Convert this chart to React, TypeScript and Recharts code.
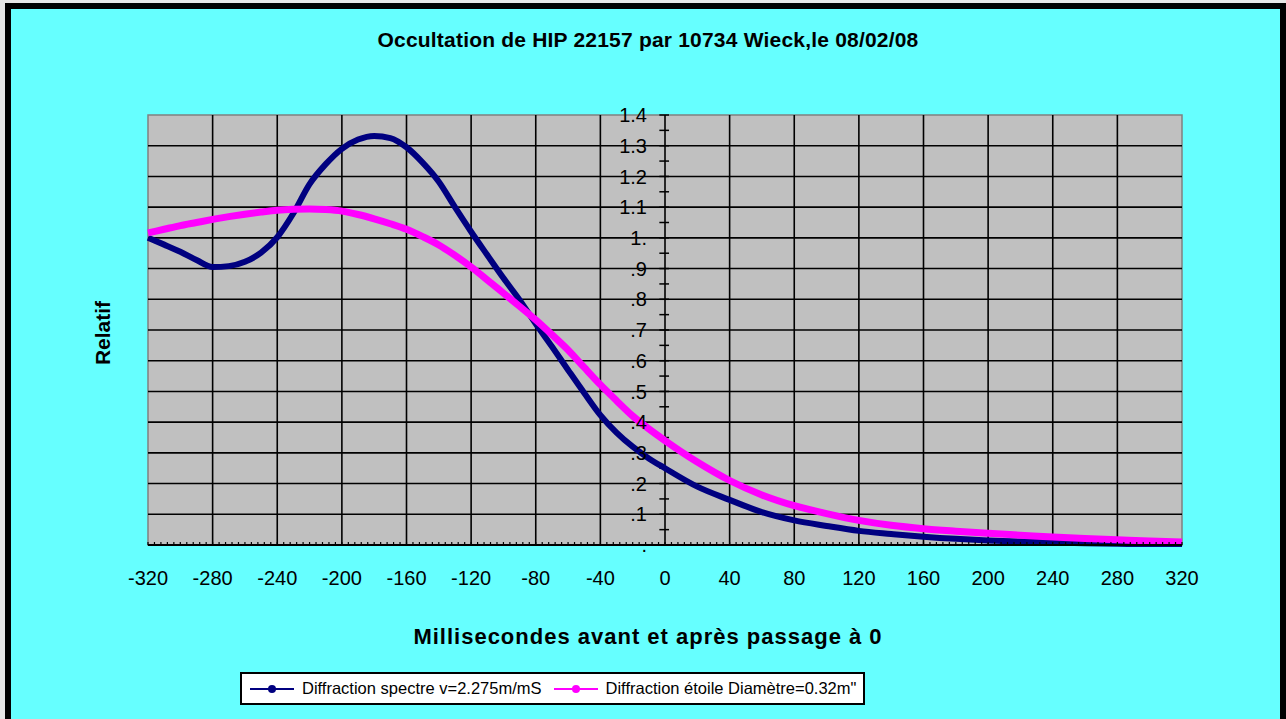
import React from 'react';
import { ComposedChart, Line, XAxis, YAxis, ReferenceLine, ReferenceArea, ReferenceDot } from 'recharts';

const timesMs = [-320, -310, -300, -290, -280, -270, -260, -250, -240, -230, -220, -210, -200, -190, -180, -170, -160, -150, -140, -130, -120, -110, -100, -90, -80, -70, -60, -50, -40, -30, -20, -10, 0, 20, 40, 60, 80, 100, 120, 140, 160, 180, 200, 220, 240, 260, 280, 300, 320];
const spectre = [1.0, 0.978, 0.955, 0.928, 0.905, 0.908, 0.922, 0.952, 1.002, 1.08, 1.175, 1.24, 1.29, 1.32, 1.332, 1.325, 1.295, 1.245, 1.183, 1.1, 1.02, 0.944, 0.869, 0.798, 0.72, 0.646, 0.57, 0.495, 0.423, 0.366, 0.32, 0.282, 0.25, 0.19, 0.147, 0.107, 0.08, 0.062, 0.046, 0.036, 0.027, 0.02, 0.015, 0.011, 0.008, 0.006, 0.004, 0.003, 0.003];
const etoile = [1.016, 1.028, 1.04, 1.05, 1.06, 1.069, 1.077, 1.084, 1.09, 1.093, 1.094, 1.092, 1.087, 1.076, 1.062, 1.046, 1.028, 1.004, 0.977, 0.943, 0.905, 0.863, 0.82, 0.777, 0.733, 0.685, 0.635, 0.578, 0.522, 0.47, 0.42, 0.378, 0.34, 0.27, 0.21, 0.163, 0.128, 0.102, 0.08, 0.064, 0.053, 0.045, 0.038, 0.032, 0.026, 0.021, 0.017, 0.013, 0.01];

const xMajorTicks = [-320, -280, -240, -200, -160, -120, -80, -40, 0, 40, 80, 120, 160, 200, 240, 280, 320];
const xMinorTicks = Array.from({ length: 161 }, (_, i) => -320 + i * 4);
const yValues = [0, 0.1, 0.2, 0.3, 0.4, 0.5, 0.6, 0.7, 0.8, 0.9, 1.0, 1.1, 1.2, 1.3, 1.4];
const yLabels = ['.', '.1', '.2', '.3', '.4', '.5', '.6', '.7', '.8', '.9', '1.', '1.1', '1.2', '1.3', '1.4'];
const yMinorTicks = Array.from({ length: 28 }, (_, i) => Math.round((i + 1) * 5) / 100);

const TITLE = 'Occultation de HIP 22157 par 10734 Wieck,le 08/02/08';
const X_TITLE = 'Millisecondes avant et après passage à 0';
const Y_TITLE = 'Relatif';
const SERIES_1 = 'Diffraction spectre v=2.275m/mS';
const SERIES_2 = 'Diffraction étoile Diamètre=0.32m"';

const data = timesMs.map((t, i) => ({ t, spectre: spectre[i], etoile: etoile[i] }));

const FONT = "'Liberation Sans', Arial, sans-serif";

const XTick = (props: any) => {
  const { x, y, payload } = props;
  const v = payload.value;
  const major = v % 40 === 0;
  return (
    <g>
      <line x1={x} x2={x} y1={y} y2={y - 3} stroke="#000" strokeWidth={1.2} />
      {major && (
        <text x={x} y={y + 33} textAnchor="middle" dominantBaseline="central" fontSize={20} fontFamily={FONT} fill="#000">
          {v}
        </text>
      )}
    </g>
  );
};

const LegendMark = ({ color }: { color: string }) => (
  <svg width={48} height={12} style={{ display: 'block' }}>
    <line x1={2} x2={46} y1={6} y2={6} stroke={color} strokeWidth={2} />
    <circle cx={24} cy={6} r={4} fill={color} />
  </svg>
);

export default function App() {
  return (
    <div style={{ position: 'fixed', left: 0, top: 0, width: 1286, height: 719, overflow: 'hidden', background: '#e6e6e6' }}>
      <div style={{ position: 'absolute', left: 5, top: 3, width: 1281, height: 740, boxSizing: 'border-box', border: '6px solid #000', background: '#66FFFF' }} />
      <div style={{ position: 'absolute', left: 0, top: 0 }}>
        <ComposedChart width={1286} height={719} data={data} margin={{ top: 115, right: 104, left: 148, bottom: 114 }}>
          <XAxis
            dataKey="t"
            type="number"
            domain={[-320, 320]}
            ticks={xMinorTicks}
            interval={0}
            tickSize={0}
            tickMargin={0}
            tickLine={false}
            tick={<XTick />}
            height={60}
            axisLine={{ stroke: '#000', strokeWidth: 2 }}
          />
          <YAxis hide type="number" domain={[0, 1.4]} />
          <ReferenceArea x1={-320} x2={320} y1={0} y2={1.4} fill="#C0C0C0" fillOpacity={1} stroke="#808080" strokeWidth={1.5} />
          {xMajorTicks.slice(1, -1).map((v) => (
            <ReferenceLine key={'vx' + v} x={v} stroke="#000" strokeWidth={1.6} />
          ))}
          {yValues.slice(1, -1).map((v) => (
            <ReferenceLine key={'hy' + v} y={v} stroke="#000" strokeWidth={1.6} />
          ))}
          {yMinorTicks.map((v) => (
            <ReferenceLine key={'my' + v} segment={[{ x: -3.5, y: v }, { x: 2.5, y: v }]} stroke="#000" strokeWidth={1.5} />
          ))}
          {yValues.map((v, i) => (
            <ReferenceDot
              key={'yl' + v}
              x={0}
              y={v}
              r={0}
              fill="none"
              stroke="none"
              label={{ value: yLabels[i], position: 'left', offset: 18, fill: '#000', fontSize: 20, fontFamily: FONT }}
            />
          ))}
          <Line type="monotone" dataKey="spectre" stroke="#000080" strokeWidth={6} dot={false} isAnimationActive={false} />
          <Line type="monotone" dataKey="etoile" stroke="#FF00FF" strokeWidth={7} dot={false} isAnimationActive={false} />
        </ComposedChart>
      </div>
      <div style={{ position: 'absolute', left: 0, width: 1296, top: 28, textAlign: 'center', fontFamily: FONT, fontWeight: 'bold', fontSize: 21, letterSpacing: 0.2, color: '#000', lineHeight: '24px' }}>
        {TITLE}
      </div>
      <div style={{ position: 'absolute', left: 0, width: 1296, top: 625, textAlign: 'center', fontFamily: FONT, fontWeight: 'bold', fontSize: 22, letterSpacing: 1, color: '#000', lineHeight: '24px' }}>
        {X_TITLE}
      </div>
      <div style={{ position: 'absolute', left: 103, top: 333, transform: 'translate(-50%, -50%) rotate(-90deg)', fontFamily: FONT, fontWeight: 'bold', fontSize: 21, color: '#000', whiteSpace: 'nowrap' }}>
        {Y_TITLE}
      </div>
      <div style={{ position: 'absolute', left: 240, top: 672, width: 625, height: 33, boxSizing: 'border-box', border: '2px solid #000', background: '#fff', display: 'flex', alignItems: 'center', fontFamily: FONT, fontSize: 16.5, color: '#000', padding: '0 0 0 6px', whiteSpace: 'nowrap', overflow: 'hidden' }}>
        <LegendMark color="#000080" />
        <span style={{ marginLeft: 6, marginRight: 10 }}>{SERIES_1}</span>
        <LegendMark color="#FF00FF" />
        <span style={{ marginLeft: 6 }}>{SERIES_2}</span>
      </div>
    </div>
  );
}
